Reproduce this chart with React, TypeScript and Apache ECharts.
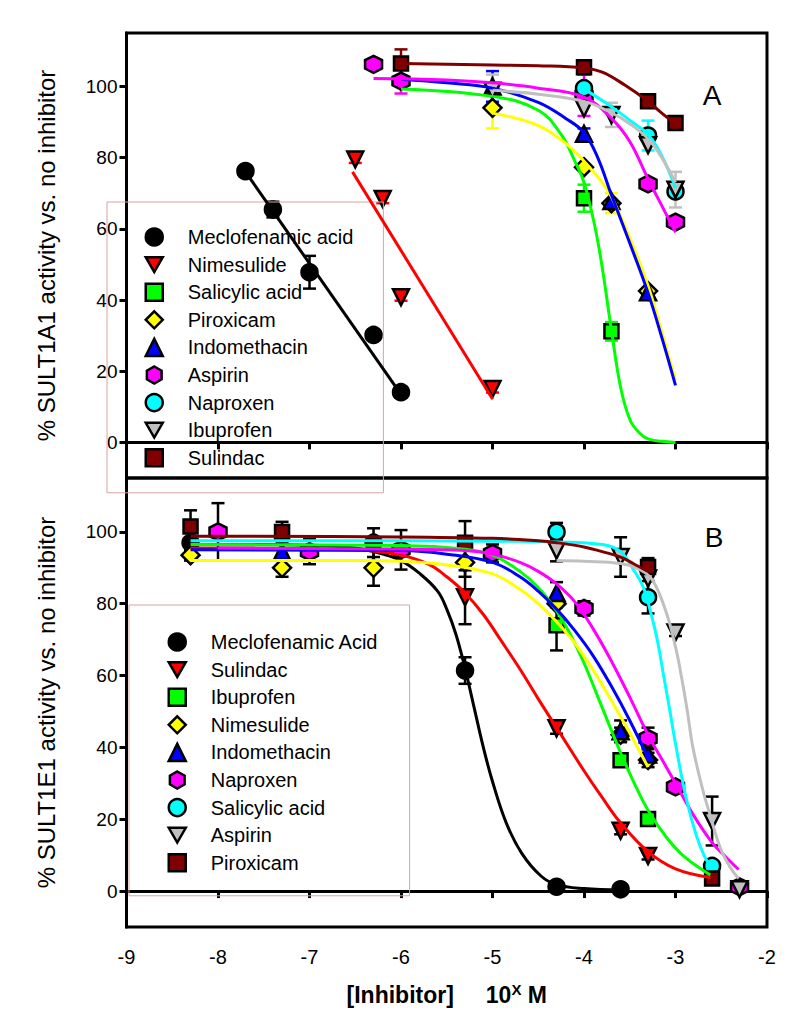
import React, { useEffect, useRef } from 'react';
import * as echarts from 'echarts';

const FONT = "'Liberation Sans', Arial, sans-serif";

// axis ticks
const Y_TICKS = [0, 20, 40, 60, 80, 100];
const X_MIN = -9;
const X_MAX = -2;

// legend labels (series order)
const NAMES_A = ['Meclofenamic acid', 'Nimesulide', 'Salicylic acid', 'Piroxicam', 'Indomethacin', 'Aspirin', 'Naproxen', 'Ibuprofen', 'Sulindac'];
const NAMES_B = ['Meclofenamic Acid', 'Sulindac', 'Ibuprofen', 'Nimesulide', 'Indomethacin', 'Naproxen', 'Salicylic acid', 'Aspirin', 'Piroxicam'];

// ---- Panel A (SULT1A1): points [log10 M, % activity, error] ----
const A_MECLO = [[-7.7, 76.2, 1.5], [-7.4, 65.4, 2.2], [-7.0, 47.8, 4.6], [-6.3, 30.2, 0], [-6.0, 14.1, 1.5]];
const A_NIMES = [[-6.5, 79.5, 1], [-6.2, 68.4, 1.2], [-6.0, 40.8, 1], [-5.0, 15.0, 1]];
const A_SALIC = [[-4.0, 68.6, 3.8], [-3.7, 31.2, 2.6]];
const A_PIROX = [[-5.0, 94.0, 5.8], [-4.0, 77.3, 0], [-3.7, 67.2, 2.8], [-3.3, 42.5, 0]];
const A_INDO = [[-5.0, 100.0, 4.3], [-4.0, 86.7, 1.5], [-3.7, 67.8, 0], [-3.3, 42.2, 0]];
const A_ASP = [[-6.3, 106.2, 0], [-6.0, 101.5, 3.5], [-4.0, 97.5, 5.8], [-3.3, 72.6, 0], [-3.0, 61.9, 0]];
const A_NAP = [[-4.0, 99.5, 0], [-3.3, 86.2, 4.2], [-3.0, 70.5, 0]];
const A_IBU = [[-5.0, 98.8, 4.5], [-4.0, 93.8, 0], [-3.7, 92.0, 3.4], [-3.3, 83.5, 0], [-3.0, 71.0, 5.0]];
const A_SUL = [[-6.0, 106.4, 4.0], [-4.0, 105.4, 1.0], [-3.3, 95.8, 0], [-3.0, 89.7, 0]];

// ---- Panel A fitted curves ----
const A_MECLO_FIT = [[-7.7, 76.0], [-6.0, 13.5]];
const A_NIMES_FIT = [[-6.53, 76.0], [-5.0, 12.2]];
const A_SALIC_FIT = [[-6.0, 99.3], [-5.0, 97.2], [-4.5, 93.3], [-4.25, 86.5], [-4.1, 79.0], [-4.0, 73.0], [-3.88, 60.5], [-3.8, 49.0], [-3.7, 31.5], [-3.6, 15.5], [-3.5, 6.5], [-3.4, 2.8], [-3.3, 1.0], [-3.15, 0.3], [-3.0, 0.0]];
const A_PIROX_FIT = [[-5.0, 92.5], [-4.5, 89.0], [-4.2, 84.0], [-4.0, 79.0], [-3.8, 73.0], [-3.7, 69.0], [-3.5, 57.5], [-3.3, 44.0], [-3.15, 31.0], [-3.0, 17.5]];
const A_INDO_FIT = [[-6.0, 102.0], [-5.5, 101.0], [-5.0, 99.5], [-4.5, 95.5], [-4.2, 91.0], [-4.0, 87.0], [-3.85, 80.0], [-3.7, 69.5], [-3.5, 56.0], [-3.3, 42.0], [-3.15, 29.5], [-3.0, 16.0]];
const A_ASP_FIT = [[-6.3, 102.2], [-5.5, 101.8], [-5.0, 101.0], [-4.5, 99.5], [-4.0, 97.0], [-3.7, 91.0], [-3.5, 84.5], [-3.3, 74.0], [-3.15, 66.5], [-3.0, 59.0]];
const A_NAP_FIT = [[-4.0, 99.3], [-3.7, 94.3], [-3.5, 90.5], [-3.3, 86.5], [-3.15, 80.5], [-3.0, 71.5]];
const A_IBU_FIT = [[-5.0, 98.9], [-4.5, 97.8], [-4.0, 95.8], [-3.7, 92.6], [-3.5, 89.5], [-3.3, 85.3], [-3.15, 80.0], [-3.0, 73.0]];
const A_SUL_FIT = [[-6.0, 106.4], [-5.0, 106.0], [-4.5, 105.8], [-4.0, 105.2], [-3.8, 104.0], [-3.55, 100.3], [-3.3, 95.8], [-3.15, 92.5], [-3.0, 89.5]];

// ---- Panel B (SULT1E1): points [log10 M, % activity, error] ----
const B_MECLO = [[-8.3, 97.0, 0], [-6.3, 97.0, 4.0], [-5.3, 61.4, 3.7], [-4.3, 1.2, 0], [-3.6, 0.5, 0]];
const B_SUL = [[-5.3, 81.8, 7.5], [-4.3, 45.3, 1.5], [-3.6, 16.8, 1.0], [-3.3, 9.8, 1.0]];
const B_IBU = [[-4.3, 74.0, 7.0], [-3.6, 36.4, 1.5], [-3.3, 20.1, 1.0]];
const B_NIMES = [[-8.3, 93.5, 1.5], [-7.3, 90.0, 2.5], [-6.3, 90.0, 5.0], [-5.3, 91.5, 4.0], [-4.3, 80.0, 1.0], [-3.6, 43.5, 2.0], [-3.3, 36.5, 2.0]];
const B_INDO = [[-7.3, 94.5, 0], [-4.3, 83.0, 3.0], [-3.6, 44.5, 3.0], [-3.3, 38.0, 2.0]];
const B_NAP = [[-8.0, 100.0, 8.0], [-7.0, 94.5, 3.5], [-6.0, 95.0, 5.5], [-5.0, 94.0, 2.5], [-4.0, 78.7, 2.0], [-3.3, 42.5, 3.0], [-3.0, 29.0, 1.0], [-2.3, 1.2, 0]];
const B_SALIC = [[-4.3, 100.0, 2.5], [-3.3, 81.8, 4.5], [-2.6, 7.0, 0]];
const B_ASP = [[-4.3, 94.8, 3.0], [-3.6, 93.0, 5.5], [-3.3, 87.0, 0], [-3.0, 72.0, 1.0], [-2.6, 19.5, 6.8], [-2.3, 0.5, 0]];
const B_PIRO = [[-8.3, 101.5, 4.5], [-7.3, 100.0, 2.8], [-5.3, 97.0, 6.0], [-3.3, 90.2, 2.5], [-2.6, 3.5, 0]];

// ---- Panel B fitted curves ----
const B_MECLO_FIT = [[-8.3, 96.5], [-7.0, 96.3], [-6.5, 95.5], [-6.2, 93.8], [-6.0, 92.0], [-5.8, 88.5], [-5.6, 83.5], [-5.5, 78.5], [-5.4, 71.5], [-5.3, 62.0], [-5.2, 51.0], [-5.1, 40.0], [-5.0, 30.5], [-4.85, 19.0], [-4.68, 10.5], [-4.47, 4.2], [-4.3, 1.8], [-4.0, 0.7], [-3.6, 0.3]];
const B_SUL_FIT = [[-8.3, 95.5], [-6.5, 95.0], [-6.0, 93.5], [-5.7, 91.0], [-5.5, 87.5], [-5.3, 83.0], [-5.1, 77.0], [-4.9, 69.5], [-4.68, 61.0], [-4.5, 53.5], [-4.3, 45.5], [-4.0, 33.5], [-3.8, 26.0], [-3.6, 19.0], [-3.3, 11.0], [-3.0, 6.2], [-2.62, 3.8]];
const B_IBU_FIT = [[-8.3, 96.5], [-6.0, 96.2], [-5.3, 95.2], [-5.0, 93.5], [-4.7, 89.0], [-4.5, 84.5], [-4.3, 78.0], [-4.15, 71.5], [-4.0, 63.5], [-3.8, 51.0], [-3.6, 38.5], [-3.45, 30.0], [-3.3, 22.5], [-3.1, 15.0], [-2.9, 9.5], [-2.62, 4.5]];
const B_NIMES_FIT = [[-8.3, 92.0], [-6.5, 92.0], [-6.0, 91.8], [-5.5, 90.8], [-5.0, 88.3], [-4.7, 84.0], [-4.5, 80.0], [-4.3, 75.0], [-4.1, 69.0], [-3.9, 61.5], [-3.7, 53.0], [-3.5, 44.0], [-3.3, 34.5]];
const B_INDO_FIT = [[-8.3, 95.0], [-6.0, 94.8], [-5.5, 93.8], [-5.0, 91.5], [-4.7, 87.5], [-4.5, 83.5], [-4.3, 78.5], [-4.1, 72.5], [-3.9, 65.5], [-3.7, 57.0], [-3.5, 47.5], [-3.3, 37.0]];
const B_NAP_FIT = [[-8.0, 95.5], [-6.0, 95.2], [-5.3, 94.8], [-5.0, 93.8], [-4.7, 91.5], [-4.5, 89.0], [-4.3, 85.5], [-4.1, 80.5], [-3.9, 73.0], [-3.7, 64.0], [-3.5, 54.0], [-3.3, 43.5], [-3.1, 34.5], [-3.0, 30.0], [-2.8, 21.0], [-2.6, 13.5], [-2.45, 9.5], [-2.31, 6.0]];
const B_SALIC_FIT = [[-8.3, 97.5], [-6.0, 97.5], [-5.0, 97.4], [-4.3, 97.2], [-3.8, 96.5], [-3.6, 94.5], [-3.46, 89.5], [-3.35, 84.5], [-3.28, 78.5], [-3.2, 70.0], [-3.13, 60.0], [-3.06, 50.0], [-3.0, 41.0], [-2.88, 25.5], [-2.77, 15.3], [-2.68, 9.5], [-2.62, 7.0]];
const B_ASP_FIT = [[-4.3, 92.0], [-4.0, 91.8], [-3.6, 91.2], [-3.4, 89.6], [-3.25, 86.5], [-3.1, 77.5], [-3.0, 68.0], [-2.93, 59.0], [-2.87, 50.0], [-2.81, 40.0], [-2.7, 28.0], [-2.62, 21.0], [-2.51, 12.0], [-2.4, 6.5], [-2.31, 3.5]];
const B_PIRO_FIT = [[-8.3, 98.8], [-6.0, 98.6], [-5.0, 98.2], [-4.5, 97.5], [-4.3, 97.0], [-4.0, 95.8], [-3.8, 94.5], [-3.6, 93.0], [-3.45, 91.0], [-3.3, 89.0]];

// ---- styles ----
const HEX = 'path://M0,-10L8.66,-5L8.66,5L0,10L-8.66,5L-8.66,-5Z';
const DOWN = 'path://M0,0L20,0L10,17.32Z';
const MARKS: Record<string, { symbol: string; size: number }> = {
  circle: { symbol: 'circle', size: 16 },
  down: { symbol: DOWN, size: 16 },
  up: { symbol: 'triangle', size: 16 },
  square: { symbol: 'rect', size: 14 },
  diamond: { symbol: 'diamond', size: 18 },
  hex: { symbol: HEX, size: 17 },
};

const PANEL_A = [
  { pts: A_MECLO, fit: A_MECLO_FIT, mark: 'circle', color: '#000000' },
  { pts: A_NIMES, fit: A_NIMES_FIT, mark: 'down', color: '#ff0000' },
  { pts: A_SALIC, fit: A_SALIC_FIT, mark: 'square', color: '#00ff00' },
  { pts: A_PIROX, fit: A_PIROX_FIT, mark: 'diamond', color: '#ffff00' },
  { pts: A_INDO, fit: A_INDO_FIT, mark: 'up', color: '#0000ff' },
  { pts: A_ASP, fit: A_ASP_FIT, mark: 'hex', color: '#ff00ff' },
  { pts: A_NAP, fit: A_NAP_FIT, mark: 'circle', color: '#00ffff' },
  { pts: A_IBU, fit: A_IBU_FIT, mark: 'down', color: '#c0c0c0' },
  { pts: A_SUL, fit: A_SUL_FIT, mark: 'square', color: '#800000' },
];
const PANEL_B = [
  { pts: B_MECLO, fit: B_MECLO_FIT, mark: 'circle', color: '#000000' },
  { pts: B_SUL, fit: B_SUL_FIT, mark: 'down', color: '#ff0000' },
  { pts: B_IBU, fit: B_IBU_FIT, mark: 'square', color: '#00ff00' },
  { pts: B_NIMES, fit: B_NIMES_FIT, mark: 'diamond', color: '#ffff00' },
  { pts: B_INDO, fit: B_INDO_FIT, mark: 'up', color: '#0000ff' },
  { pts: B_NAP, fit: B_NAP_FIT, mark: 'hex', color: '#ff00ff' },
  { pts: B_SALIC, fit: B_SALIC_FIT, mark: 'circle', color: '#00ffff' },
  { pts: B_ASP, fit: B_ASP_FIT, mark: 'down', color: '#c0c0c0' },
  { pts: B_PIRO, fit: B_PIRO_FIT, mark: 'square', color: '#800000' },
];

function buildSeries(prefix: string, idx: number, names: string[], panel: any[], blackErr: boolean) {
  const errs: any[] = [];
  const scat: any[] = [];
  const lines: any[] = [];
  panel.forEach((p, i) => {
    const m = MARKS[p.mark];
    const ec = blackErr ? '#000000' : p.color;
    errs.push({
      type: 'custom',
      name: `${prefix}err${i}`,
      xAxisIndex: idx,
      yAxisIndex: idx,
      z: 2,
      silent: true,
      encode: { x: 0, y: [1, 2] },
      data: p.pts.filter((d: number[]) => d[2] > 0).map((d: number[]) => [d[0], d[1] - d[2], d[1] + d[2]]),
      renderItem: (params: any, api: any) => {
        const x = api.value(0);
        const lo = api.coord([x, api.value(1)]);
        const hi = api.coord([x, api.value(2)]);
        const w = 6.5;
        const style = { stroke: ec, lineWidth: 2.5 };
        return {
          type: 'group',
          children: [
            { type: 'line', shape: { x1: lo[0], y1: lo[1], x2: hi[0], y2: hi[1] }, style },
            { type: 'line', shape: { x1: lo[0] - w, y1: lo[1], x2: lo[0] + w, y2: lo[1] }, style },
            { type: 'line', shape: { x1: hi[0] - w, y1: hi[1], x2: hi[0] + w, y2: hi[1] }, style },
          ],
        };
      },
    });
    scat.push({
      type: 'scatter',
      name: `${prefix}:${names[i]}`,
      xAxisIndex: idx,
      yAxisIndex: idx,
      z: 3,
      symbol: m.symbol,
      symbolSize: m.size,
      itemStyle: { color: p.color, borderColor: '#000000', borderWidth: 2.5, opacity: 1 },
      data: p.pts.map((d: number[]) => [d[0], d[1]]),
    });
    lines.push({
      type: 'line',
      name: `${prefix}fit${i}`,
      xAxisIndex: idx,
      yAxisIndex: idx,
      z: 4,
      silent: true,
      smooth: 0.4,
      showSymbol: false,
      symbol: 'none',
      lineStyle: { color: p.color, width: 3 },
      data: p.fit,
    });
  });
  return [...errs, ...scat, ...lines];
}

function yAxis(idx: number, name: string) {
  return {
    gridIndex: idx,
    type: 'value',
    min: -10,
    max: 115,
    name,
    nameLocation: 'middle',
    nameGap: 68,
    nameTextStyle: { fontSize: 24, color: '#000', fontFamily: FONT },
    axisLine: { show: true, lineStyle: { color: '#000', width: 3 } },
    axisTick: { show: true, length: 7, customValues: Y_TICKS, lineStyle: { color: '#000', width: 3 } },
    axisLabel: { show: true, customValues: Y_TICKS, fontSize: 19, color: '#000', margin: 9, fontFamily: FONT },
    splitLine: { show: false },
  };
}

function xAxis(idx: number, labels: boolean) {
  return {
    gridIndex: idx,
    type: 'value',
    min: X_MIN,
    max: X_MAX,
    interval: 1,
    axisLine: { show: true, lineStyle: { color: '#000', width: 3 } },
    axisTick: { show: true, length: 7, lineStyle: { color: '#000', width: 3 } },
    axisLabel: { show: labels, fontSize: 20, color: '#000', margin: 20, fontFamily: FONT },
    splitLine: { show: false },
    ...(labels
      ? {
          name: '{b|[Inhibitor]\u00a0\u00a0\u00a0\u00a0\u00a010}{s|X}{b|\u00a0M}',
          nameLocation: 'middle',
          nameGap: 55,
          nameTextStyle: {
            rich: {
              b: { fontSize: 23, fontWeight: 'bold', color: '#000', fontFamily: FONT, lineHeight: 26 },
              s: { fontSize: 15, fontWeight: 'bold', color: '#000', fontFamily: FONT, verticalAlign: 'top', lineHeight: 26 },
            },
          },
        }
      : {}),
  };
}

function legend(prefix: string, names: string[], left: number, top: number, padding: number[]) {
  return {
    show: true,
    orient: 'vertical',
    left,
    top,
    padding,
    itemGap: 7.6,
    itemWidth: 17,
    itemHeight: 17,
    borderColor: '#d9a3a3',
    borderWidth: 1,
    selectedMode: false,
    data: names.map((n) => `${prefix}:${n}`),
    formatter: (n: string) => n.slice(prefix.length + 1),
    textStyle: { fontSize: 20, color: '#000', fontFamily: FONT, padding: [0, 0, 0, 20] },
    itemStyle: { borderWidth: 2.5, borderColor: '#000' },
  };
}

export default function App() {
  const ref = useRef<HTMLDivElement>(null);
  useEffect(() => {
    if (!ref.current) return;
    const chart = echarts.init(ref.current, undefined, { renderer: 'svg' });
    chart.setOption({
      animation: false,
      backgroundColor: '#ffffff',
      grid: [
        { left: 126.5, top: 33, width: 640.5, height: 445, show: true, borderColor: '#000', borderWidth: 3 },
        { left: 126.5, top: 478, width: 640.5, height: 449, show: true, borderColor: '#000', borderWidth: 3 },
      ],
      xAxis: [xAxis(0, false), xAxis(1, true)],
      yAxis: [
        yAxis(0, '% SULT1A1 activity vs. no inhibitor'),
        yAxis(1, '% SULT1E1 activity vs. no inhibitor'),
      ],
      legend: [
        legend('A', NAMES_A, 107, 202, [25, 30, 25, 37.5]),
        legend('B', NAMES_B, 129, 605, [27, 31, 23, 38.5]),
      ],
      graphic: [
        { type: 'text', x: 712, y: 95, style: { text: 'A', fontSize: 28, fill: '#000', fontFamily: FONT, align: 'center', verticalAlign: 'middle' } },
        { type: 'text', x: 714, y: 537, style: { text: 'B', fontSize: 28, fill: '#000', fontFamily: FONT, align: 'center', verticalAlign: 'middle' } },
      ],
      series: [
        ...buildSeries('A', 0, NAMES_A, PANEL_A, false),
        ...buildSeries('B', 1, NAMES_B, PANEL_B, true),
      ],
    });
    return () => chart.dispose();
  }, []);
  return <div ref={ref} style={{ position: 'absolute', left: 0, top: 0, width: 800, height: 1027 }} />;
}
